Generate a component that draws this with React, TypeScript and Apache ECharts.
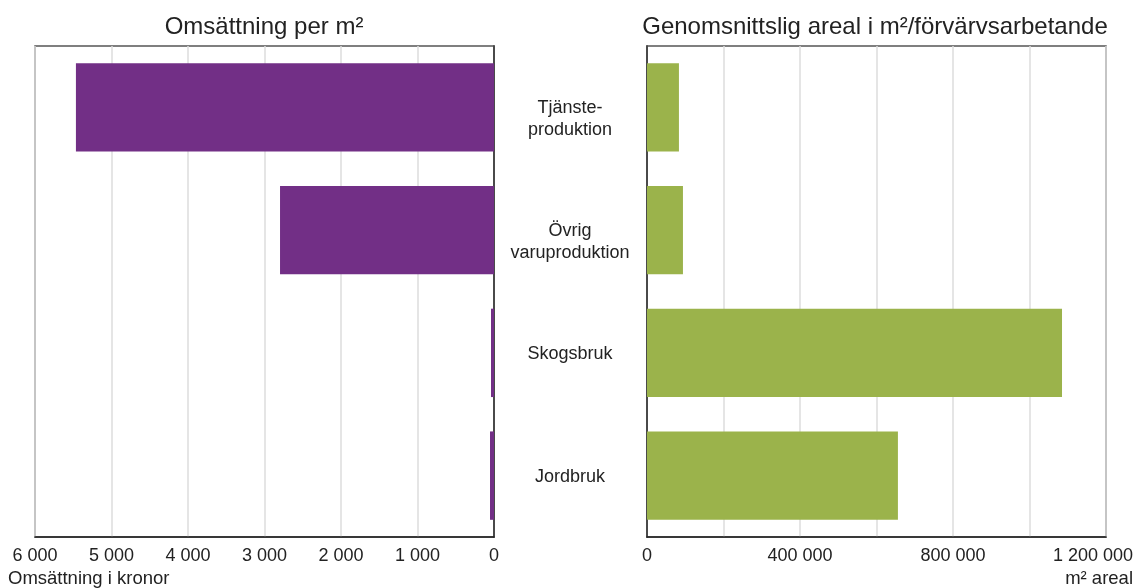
import React, { useEffect, useRef } from "react";
import * as echarts from "echarts";

const categories = ["Tjänste-\nproduktion", "Övrig\nvaruproduktion", "Skogsbruk", "Jordbruk"];
const omsattningPerM2 = [5465, 2797, 39, 52];
const arealPerArbetande = [83500, 94000, 1085000, 656000];
const leftTicks = { min: 0, max: 6000, interval: 1000 };
const rightTicks = { min: 0, max: 1200000, interval: 200000, labelStep: 400000 };
const titles = ["Omsättning per m²", "Genomsnittslig areal i m²/förvärvsarbetande"];
const axisNames = ["Omsättning i kronor", "m² areal"];

const FONT = 'Arial, "Liberation Sans", sans-serif';
const TXT = "#222";

const fmt = (v: number) => String(v).replace(/\B(?=(\d{3})+(?!\d))/g, " ");

export default function App() {
  const ref = useRef<HTMLDivElement>(null);
  useEffect(() => {
    if (!ref.current) return;
    const chart = echarts.init(ref.current, undefined, { renderer: "svg" });
    chart.setOption({
      animation: false,
      textStyle: { fontFamily: FONT },
      grid: [
        { left: 35, top: 46, width: 459, height: 491, show: true, borderColor: "#555", borderWidth: 1.5, outerBoundsMode: "none", containLabel: false },
        { left: 647, top: 46, width: 459, height: 491, show: true, borderColor: "#555", borderWidth: 1.5, outerBoundsMode: "none", containLabel: false },
      ],
      title: [
        { text: titles[0], left: 259, top: 8, textAlign: "center", textStyle: { fontFamily: FONT, fontSize: 24, fontWeight: "normal", color: TXT } },
        { text: titles[1], left: 870, top: 8, textAlign: "center", textStyle: { fontFamily: FONT, fontSize: 24, fontWeight: "normal", color: TXT } },
      ],
      xAxis: [
        {
          type: "value", gridIndex: 0, inverse: true,
          min: leftTicks.min, max: leftTicks.max, interval: leftTicks.interval,
          axisLine: { show: true, lineStyle: { color: "#222", width: 1.5 } },
          axisTick: { show: false },
          splitLine: { show: true, lineStyle: { color: "#dcdcdc", width: 1.5 } },
          axisLabel: { formatter: (v: number) => fmt(v), fontSize: 18, color: TXT, margin: 9, fontFamily: FONT },
        },
        {
          type: "value", gridIndex: 1,
          min: rightTicks.min, max: rightTicks.max, interval: rightTicks.interval,
          axisLine: { show: true, lineStyle: { color: "#222", width: 1.5 } },
          axisTick: { show: false },
          splitLine: { show: true, lineStyle: { color: "#dcdcdc", width: 1.5 } },
          axisLabel: {
            formatter: (v: number) =>
              v === rightTicks.max ? "{last|" + fmt(v) + "}" : v % rightTicks.labelStep === 0 ? fmt(v) : "",
            fontSize: 18, color: TXT, margin: 9, fontFamily: FONT,
            showMaxLabel: true,
            rich: { last: { fontSize: 18, color: TXT, fontFamily: FONT, padding: [0, 26, 0, 0] } },
          },
        },
      ],
      yAxis: [
        {
          type: "category", gridIndex: 0, data: categories.map((c) => (c.includes("\n") ? "\n" + c : c)),
          inverse: true, position: "right",
          axisLine: { show: true, lineStyle: { color: "#222", width: 1.5 } },
          axisTick: { show: false },
          axisLabel: { align: "center", margin: 76, fontSize: 18, lineHeight: 22, color: TXT, fontFamily: FONT },
        },
        {
          type: "category", gridIndex: 1, data: categories, inverse: true,
          axisLine: { show: true, lineStyle: { color: "#222", width: 1.5 } },
          axisTick: { show: false },
          axisLabel: { show: false },
        },
      ],
      series: [
        {
          type: "bar", xAxisIndex: 0, yAxisIndex: 0, data: omsattningPerM2,
          barCategoryGap: "28%", itemStyle: { color: "#722F86" },
        },
        {
          type: "bar", xAxisIndex: 1, yAxisIndex: 1, data: arealPerArbetande,
          barCategoryGap: "28%", itemStyle: { color: "#9BB34B" },
        },
      ],
      graphic: [
        { type: "text", left: 8, top: 568, style: { text: axisNames[0], font: `18.5px ${FONT}`, fill: TXT } },
        { type: "text", right: 1, top: 568, style: { text: axisNames[1], font: `18.5px ${FONT}`, fill: TXT } },
      ],
    });
    return () => chart.dispose();
  }, []);
  return <div ref={ref} style={{ position: "fixed", left: 0, top: 0, width: 1134, height: 588 }} />;
}
